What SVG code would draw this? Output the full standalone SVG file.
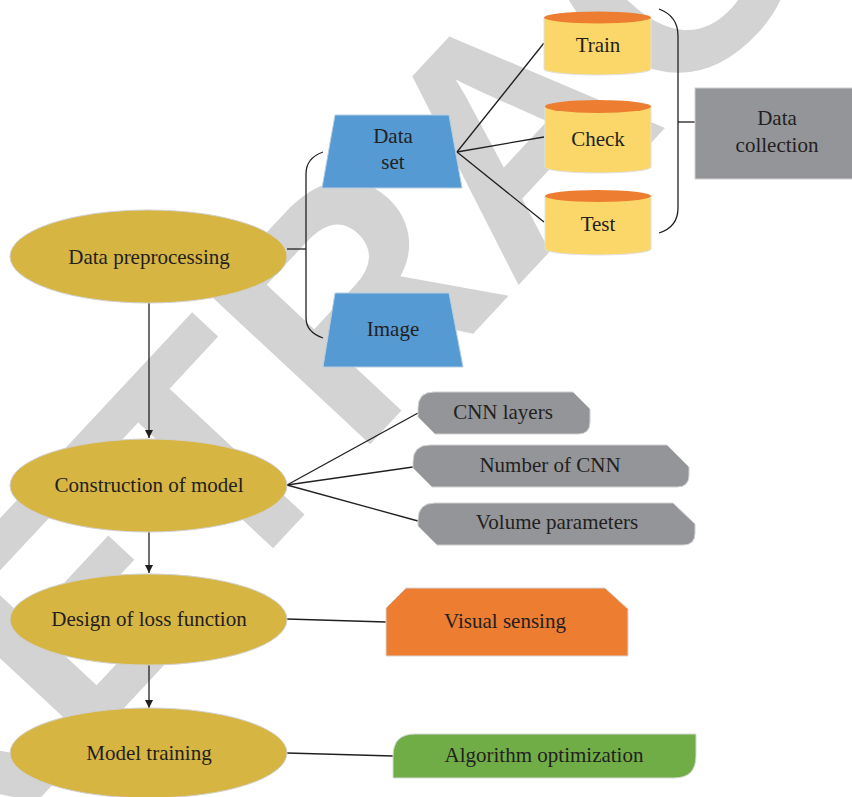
<svg xmlns="http://www.w3.org/2000/svg" width="852" height="797" viewBox="0 0 852 797">
  <defs>
    <style>
      .lbl { font-family: "Liberation Serif", "Times New Roman", serif; font-size: 21px; fill: #231f20; text-anchor: middle; }
      .oval { fill: #d7b542; stroke: #d0d0d0; stroke-width: 1; }
      .trap { fill: #559ad3; stroke: #b8cde0; stroke-width: 1; }
      .cyl { fill: #fbd769; stroke: #e0e0e0; stroke-width: 1; }
      .cap { fill: #ed7d31; }
      .gray { fill: #939598; stroke: #d0d0d0; stroke-width: 1; }
      .wire { fill: none; stroke: #231f20; stroke-width: 1.3; }
      .mark { font-family: "Liberation Sans", Arial, sans-serif; font-weight: bold; font-size: 320px; fill: #d3d3d3; }
    </style>
    <marker id="head" viewBox="0 0 8 8" refX="8" refY="4" markerWidth="8" markerHeight="8" markerUnits="userSpaceOnUse" orient="auto">
      <path d="M0,0 L8,4 L0,8 Z" fill="#231f20"/>
    </marker>
  </defs>

  <rect width="852" height="797" fill="#ffffff"/>

  <!-- diagonal stamp behind the chart -->
  <g id="stamp">
    <text class="mark" x="-81" y="928" transform="rotate(-47 -81 928)">RETRACTED</text>
  </g>

  <!-- connectors -->
  <g id="connectors">
    <line class="wire" x1="149" y1="303" x2="149" y2="438" marker-end="url(#head)"/>
    <line class="wire" x1="149" y1="532" x2="149" y2="573" marker-end="url(#head)"/>
    <line class="wire" x1="149" y1="665" x2="149" y2="708" marker-end="url(#head)"/>
    <!-- left bracket -->
    <line class="wire" x1="287" y1="249" x2="306" y2="249"/>
    <path class="wire" d="M323,152 Q306,158 306,174 L306,318 Q306,332 323,338"/>
    <!-- data set to the three stores -->
    <line class="wire" x1="457" y1="152" x2="544" y2="43"/>
    <line class="wire" x1="457" y1="152" x2="544" y2="137"/>
    <line class="wire" x1="457" y1="152" x2="544" y2="222"/>
    <!-- right bracket -->
    <path class="wire" d="M659,9 Q678,16 678,36 L678,208 Q678,227 659,233"/>
    <line class="wire" x1="678" y1="122" x2="695" y2="122"/>
    <!-- model parameters -->
    <line class="wire" x1="287" y1="485" x2="418" y2="413"/>
    <line class="wire" x1="287" y1="485" x2="413" y2="467"/>
    <line class="wire" x1="287" y1="485" x2="418" y2="521"/>
    <line class="wire" x1="287" y1="619" x2="386" y2="622"/>
    <line class="wire" x1="287" y1="753" x2="393" y2="756"/>
  </g>

  <g id="data-preprocessing">
    <ellipse class="oval" cx="148.5" cy="256.5" rx="138.5" ry="46.5"/>
    <text class="lbl" x="149" y="264">Data preprocessing</text>
  </g>
  <g id="construction-of-model">
    <ellipse class="oval" cx="148.5" cy="485.5" rx="138.5" ry="46.5"/>
    <text class="lbl" x="149" y="492">Construction of model</text>
  </g>
  <g id="design-of-loss-function">
    <ellipse class="oval" cx="148.5" cy="619.5" rx="138.5" ry="45.5"/>
    <text class="lbl" x="149" y="626">Design of loss function</text>
  </g>
  <g id="model-training">
    <ellipse class="oval" cx="148.5" cy="753" rx="138.5" ry="45"/>
    <text class="lbl" x="149" y="760">Model training</text>
  </g>

  <g id="data-set">
    <polygon class="trap" points="335,115 449,115 462,188 322,188"/>
    <text class="lbl" x="393" y="143">Data</text>
    <text class="lbl" x="393" y="169">set</text>
  </g>
  <g id="image">
    <polygon class="trap" points="335,293 449,293 463,367 323,367"/>
    <text class="lbl" x="393" y="336">Image</text>
  </g>

  <g id="train">
    <path class="cyl" d="M544,17.5 L544,69 A53.5,6 0 0 0 651,69 L651,17.5 Z"/>
    <ellipse class="cap" cx="597.5" cy="17.5" rx="53.5" ry="6"/>
    <text class="lbl" x="598" y="52">Train</text>
  </g>
  <g id="check">
    <path class="cyl" d="M545,106.5 L545,167 A53,6 0 0 0 651,167 L651,106.5 Z"/>
    <ellipse class="cap" cx="598" cy="106.5" rx="53" ry="6.5"/>
    <text class="lbl" x="598" y="146">Check</text>
  </g>
  <g id="test">
    <path class="cyl" d="M545,196 L545,249 A53,6 0 0 0 651,249 L651,196 Z"/>
    <ellipse class="cap" cx="598" cy="196" rx="53" ry="6"/>
    <text class="lbl" x="598" y="231">Test</text>
  </g>

  <g id="data-collection">
    <rect class="gray" x="695" y="88" width="160" height="91"/>
    <text class="lbl" x="777" y="125">Data</text>
    <text class="lbl" x="777" y="152">collection</text>
  </g>

  <g id="cnn-layers">
    <path class="gray" d="M434,392 L573,392 L590,409 L590,422 Q590,434 578,434 L435,434 L418,417 L418,408 Q418,392 434,392 Z"/>
    <text class="lbl" x="503" y="419">CNN layers</text>
  </g>
  <g id="number-of-cnn">
    <path class="gray" d="M430,445 L667,445 L689,467 L689,475 Q689,487 677,487 L432,487 L413,468 L413,462 Q413,445 430,445 Z"/>
    <text class="lbl" x="550" y="472">Number of CNN</text>
  </g>
  <g id="volume-parameters">
    <path class="gray" d="M435,503 L673,503 L695,524 L695,533 Q695,545 683,545 L437,545 L418,526 L418,520 Q418,503 435,503 Z"/>
    <text class="lbl" x="557" y="529">Volume parameters</text>
  </g>

  <g id="visual-sensing">
    <path d="M406,588 L605,588 L628,609 L628,656 L386,656 L386,608 Z" fill="#ed7d31" stroke="#d8d8d8" stroke-width="1"/>
    <text class="lbl" x="505" y="628">Visual sensing</text>
  </g>

  <g id="algorithm-optimization">
    <path d="M415,734 L696,734 L696,756 Q696,778 674,778 L393,778 L393,756 Q393,734 415,734 Z" fill="#70ad47" stroke="#d8d8d8" stroke-width="1"/>
    <text class="lbl" x="544" y="762">Algorithm optimization</text>
  </g>
</svg>
